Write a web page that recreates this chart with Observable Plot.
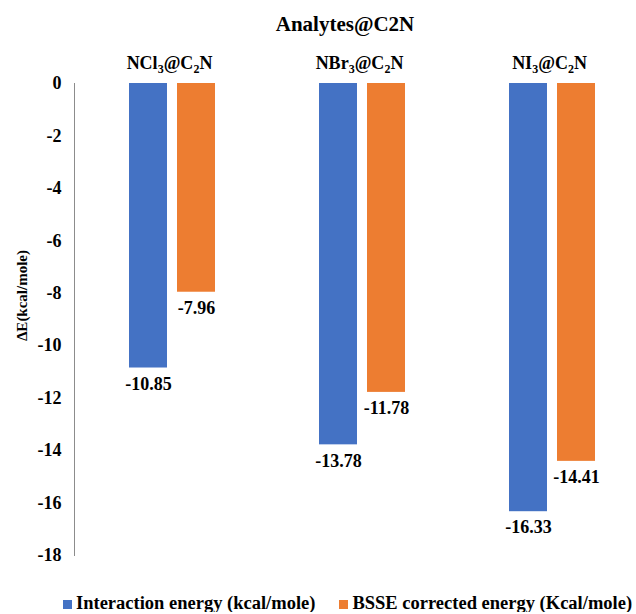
<!DOCTYPE html>
<html>
<head>
<meta charset="utf-8">
<script src="https://cdn.jsdelivr.net/npm/d3@7"></script>
<script src="https://cdn.jsdelivr.net/npm/@observablehq/plot@0.6"></script>
<style>
  html, body { margin: 0; padding: 0; background: #fff; }
  body { width: 636px; font-family: "Liberation Serif", "Times New Roman", serif; font-weight: bold; color: #000; }
  #title { height: 44px; box-sizing: border-box; padding-top: 14px; padding-left: 54px; text-align: center; font-size: 21px; line-height: 1; }
  #legend { box-sizing: border-box; padding-top: 15px; padding-left: 63px; display: flex; gap: 24px; font-size: 18.5px; line-height: 18px; white-space: nowrap; }
  .sw { display: inline-block; width: 9px; height: 9px; margin-right: 4px; vertical-align: middle; }
</style>
</head>
<body>
<div id="title"></div>
<div id="chart"></div>
<div id="legend"></div>
<script>
const title = "Analytes@C2N";
const categories = ["NCl3@C2N", "NBr3@C2N", "NI3@C2N"];
const series = ["Interaction energy (kcal/mole)", "BSSE corrected energy (Kcal/mole)"];
const interactionEnergy = [-10.85, -13.78, -16.33];
const bsseEnergy = [-7.96, -11.78, -14.41];
const yTicks = [0, -2, -4, -6, -8, -10, -12, -14, -16, -18];
const yLabel = "ΔE(kcal/mole)";
const colors = ["#4472C4", "#ED7D31"];

const rows = [];
categories.forEach((c, i) => {
  rows.push({cat: c, series: series[0], value: interactionEnergy[i]});
  rows.push({cat: c, series: series[1], value: bsseEnergy[i]});
});

document.getElementById("title").textContent = title;

const font = "Liberation Serif";
const chart = Plot.plot({
  width: 636,
  height: 535,
  marginTop: 39,
  marginBottom: 24,
  marginLeft: 74,
  marginRight: 0,
  style: {fontFamily: font, fontWeight: "bold", fontSize: "18px", color: "#000", background: "#fff"},
  fx: {domain: categories, range: [74, 644], padding: 0},
  x: {domain: series, range: [128, 215.75], paddingInner: 0.2, paddingOuter: 0, axis: null},
  y: {domain: [-18, 0]},
  color: {domain: series, range: colors},
  marks: [
    Plot.frame({anchor: "left", facetAnchor: "left", stroke: "#8c8c8c", strokeWidth: 1}),
    Plot.barY(rows, {fx: "cat", x: "series", y: "value", fill: "series"}),
    Plot.text(rows, {fx: "cat", x: "series", y: "value", text: d => d.value.toFixed(2),
      lineAnchor: "top", dy: 9, fontSize: 18, fontWeight: "bold", fill: "#000"}),
    Plot.axisY({ticks: yTicks, tickSize: 0, tickPadding: 13, tickFormat: d => String(d),
      fontSize: 18, fontWeight: "bold", label: null}),
    Plot.text([yLabel], {fx: () => categories[0], frameAnchor: "left", textAnchor: "middle", text: d => d, rotate: -90,
      dx: -52, dy: -24, fontSize: 15, fontWeight: "bold", fill: "#000"}),
    Plot.axisFx({anchor: "top", tickSize: 0, tickPadding: 15, fontSize: 18, fontWeight: "bold", label: null})
  ]
});
document.getElementById("chart").appendChild(chart);

// render digits in the category labels as subscripts
chart.querySelectorAll('g[aria-label="fx-axis tick label"] text').forEach(t => {
  const s = t.textContent;
  while (t.firstChild) t.removeChild(t.firstChild);
  const parts = s.split(/(\d+)/).filter(p => p.length);
  let shifted = false;
  parts.forEach(p => {
    const ts = document.createElementNS("http://www.w3.org/2000/svg", "tspan");
    ts.textContent = p;
    if (/^\d+$/.test(p)) {
      ts.setAttribute("font-size", "12px");
      ts.setAttribute("dy", shifted ? "0" : "4");
      shifted = true;
    } else if (shifted) {
      ts.setAttribute("dy", "-4");
      shifted = false;
    }
    t.appendChild(ts);
  });
});

const legend = document.getElementById("legend");
series.forEach((s, i) => {
  const item = document.createElement("div");
  const sw = document.createElement("span");
  sw.className = "sw";
  sw.style.background = colors[i];
  item.appendChild(sw);
  item.appendChild(document.createTextNode(s));
  legend.appendChild(item);
});
</script>
</body>
</html>
